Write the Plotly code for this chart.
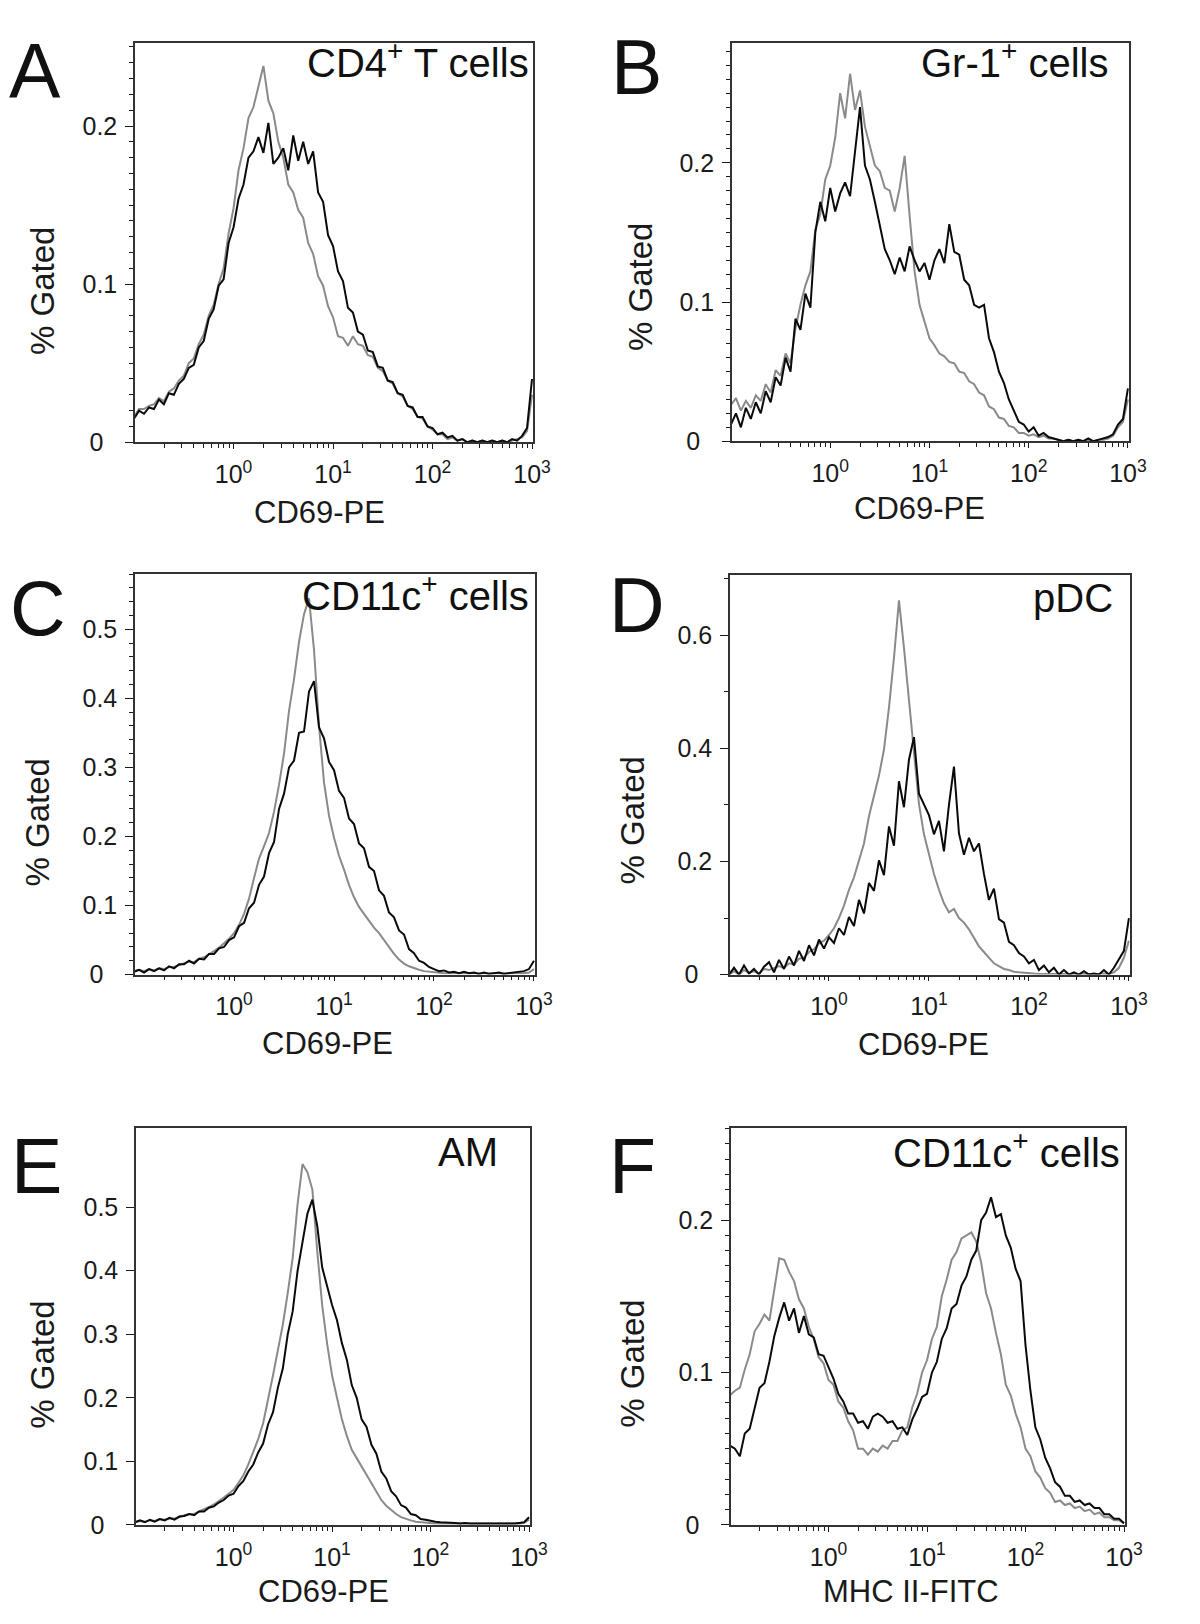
import plotly.graph_objects as go

# ---------------- data ----------------
# histogram channel grid (log10 of fluorescence), 0.05-decade bins
CHANNEL_LOG10 = [round(-1.0 + 0.05 * i, 2) for i in range(81)]
CHANNELS = [10 ** v for v in CHANNEL_LOG10]

X_TICK_VALUES = [1, 10, 100, 1000]
X_TICK_TEXT = ["10<sup>0</sup>", "10<sup>1</sup>", "10<sup>2</sup>", "10<sup>3</sup>"]

PANEL_LETTERS = ["A", "B", "C", "D", "E", "F"]
CELL_LABELS = ["CD4<sup>+</sup> T cells", "Gr-1<sup>+</sup> cells", "CD11c<sup>+</sup> cells",
               "pDC", "AM", "CD11c<sup>+</sup> cells"]
X_TITLES = ["CD69-PE", "CD69-PE", "CD69-PE", "CD69-PE", "CD69-PE", "MHC II-FITC"]
Y_TITLE = "% Gated"

# labelled y ticks per panel
A_YTICKS = [0, 0.1, 0.2]
A_YLABELS = ["0\u2007", "0.1", "0.2"]
B_YTICKS = [0, 0.1, 0.2]
B_YLABELS = ["0\u2007", "0.1", "0.2"]
C_YTICKS = [0, 0.1, 0.2, 0.3, 0.4, 0.5]
C_YLABELS = ["0\u2007", "0.1", "0.2", "0.3", "0.4", "0.5"]
D_YTICKS = [0, 0.2, 0.4, 0.6]
D_YLABELS = ["0\u2007", "0.2", "0.4", "0.6"]
E_YTICKS = [0, 0.1, 0.2, 0.3, 0.4, 0.5]
E_YLABELS = ["0\u2007", "0.1", "0.2", "0.3", "0.4", "0.5"]
F_YTICKS = [0, 0.1, 0.2]
F_YLABELS = ["0\u2007", "0.1", "0.2"]
# unlabelled half-step ticks
A_HALF_TICKS = [0.05, 0.15, 0.25]
B_HALF_TICKS = [0.05, 0.15, 0.25]
E_HALF_TICKS = [0.6]
F_HALF_TICKS = [0.05, 0.15, 0.25]

Y_MAX = [0.2527, 0.2863, 0.580, 0.7066, 0.6243, 0.2603]

# histogram values (% gated); gray = control, black = treated
A_GRAY = [
    0.016, 0.021, 0.021, 0.023, 0.024, 0.028, 0.026, 0.032, 0.034, 0.039,
    0.042, 0.050, 0.053, 0.062, 0.068, 0.080, 0.087, 0.100, 0.110, 0.132,
    0.148, 0.172, 0.186, 0.205, 0.212, 0.226, 0.238, 0.216, 0.208, 0.190,
    0.180, 0.163, 0.158, 0.147, 0.142, 0.126, 0.119, 0.105, 0.099, 0.086,
    0.079, 0.067, 0.066, 0.061, 0.067, 0.062, 0.061, 0.055, 0.054, 0.047,
    0.045, 0.039, 0.037, 0.031, 0.029, 0.023, 0.021, 0.016, 0.015, 0.010,
    0.008, 0.005, 0.005, 0.002, 0.003, 0.001, 0.002, 0.000, 0.001, 0.000,
    0.001, 0.000, 0.001, 0.000, 0.001, 0.000, 0.001, 0.002, 0.003, 0.007,
    0.030]
A_BLACK = [
    0.015, 0.020, 0.018, 0.022, 0.021, 0.027, 0.024, 0.031, 0.030, 0.037,
    0.040, 0.047, 0.049, 0.060, 0.064, 0.078, 0.084, 0.099, 0.103, 0.126,
    0.136, 0.154, 0.163, 0.180, 0.184, 0.193, 0.183, 0.202, 0.176, 0.180,
    0.186, 0.172, 0.194, 0.178, 0.190, 0.176, 0.184, 0.158, 0.152, 0.131,
    0.124, 0.108, 0.102, 0.085, 0.082, 0.070, 0.068, 0.058, 0.057, 0.048,
    0.047, 0.039, 0.038, 0.031, 0.030, 0.023, 0.022, 0.016, 0.016, 0.010,
    0.009, 0.005, 0.006, 0.003, 0.004, 0.001, 0.002, 0.000, 0.001, 0.000,
    0.001, 0.000, 0.001, 0.000, 0.001, 0.000, 0.002, 0.001, 0.004, 0.009,
    0.040]

B_GRAY = [
    0.026, 0.031, 0.022, 0.029, 0.024, 0.033, 0.029, 0.041, 0.035, 0.051,
    0.047, 0.063, 0.056, 0.081, 0.098, 0.112, 0.122, 0.152, 0.163, 0.188,
    0.198, 0.218, 0.250, 0.232, 0.264, 0.238, 0.252, 0.226, 0.212, 0.198,
    0.194, 0.182, 0.180, 0.165, 0.182, 0.205, 0.162, 0.122, 0.098, 0.086,
    0.074, 0.069, 0.063, 0.061, 0.057, 0.056, 0.050, 0.049, 0.043, 0.041,
    0.035, 0.033, 0.025, 0.023, 0.017, 0.016, 0.011, 0.010, 0.006, 0.006,
    0.004, 0.005, 0.003, 0.004, 0.002, 0.002, 0.001, 0.000, 0.001, 0.000,
    0.001, 0.000, 0.001, 0.000, 0.001, 0.001, 0.002, 0.004, 0.010, 0.014,
    0.030]
B_BLACK = [
    0.012, 0.020, 0.010, 0.024, 0.016, 0.028, 0.020, 0.036, 0.028, 0.046,
    0.040, 0.060, 0.050, 0.088, 0.080, 0.106, 0.096, 0.150, 0.172, 0.158,
    0.182, 0.165, 0.178, 0.186, 0.176, 0.208, 0.240, 0.198, 0.188, 0.172,
    0.156, 0.138, 0.130, 0.120, 0.132, 0.122, 0.140, 0.130, 0.122, 0.128,
    0.116, 0.130, 0.138, 0.128, 0.156, 0.136, 0.134, 0.116, 0.112, 0.098,
    0.096, 0.098, 0.074, 0.064, 0.050, 0.042, 0.030, 0.022, 0.014, 0.012,
    0.007, 0.010, 0.004, 0.006, 0.003, 0.002, 0.001, 0.000, 0.001, 0.000,
    0.001, 0.000, 0.002, 0.000, 0.001, 0.002, 0.003, 0.005, 0.012, 0.016,
    0.038]

C_GRAY = [
    0.005, 0.007, 0.005, 0.008, 0.006, 0.009, 0.008, 0.011, 0.011, 0.014,
    0.016, 0.019, 0.018, 0.023, 0.025, 0.029, 0.034, 0.039, 0.045, 0.052,
    0.060, 0.072, 0.088, 0.110, 0.140, 0.168, 0.186, 0.205, 0.236, 0.275,
    0.320, 0.382, 0.428, 0.482, 0.522, 0.545, 0.470, 0.360, 0.278, 0.230,
    0.198, 0.172, 0.152, 0.130, 0.112, 0.098, 0.088, 0.078, 0.068, 0.060,
    0.050, 0.040, 0.030, 0.022, 0.016, 0.012, 0.009, 0.007, 0.005, 0.004,
    0.003, 0.003, 0.002, 0.002, 0.002, 0.001, 0.002, 0.001, 0.001, 0.001,
    0.001, 0.001, 0.001, 0.001, 0.001, 0.001, 0.001, 0.002, 0.002, 0.003,
    0.008]
C_BLACK = [
    0.004, 0.007, 0.003, 0.008, 0.005, 0.009, 0.006, 0.012, 0.009, 0.015,
    0.015, 0.020, 0.016, 0.023, 0.022, 0.030, 0.030, 0.038, 0.040, 0.050,
    0.054, 0.070, 0.075, 0.096, 0.104, 0.130, 0.142, 0.176, 0.192, 0.240,
    0.262, 0.300, 0.310, 0.350, 0.352, 0.410, 0.425, 0.358, 0.342, 0.308,
    0.296, 0.266, 0.256, 0.226, 0.218, 0.190, 0.183, 0.156, 0.150, 0.122,
    0.114, 0.090, 0.083, 0.064, 0.058, 0.037, 0.031, 0.020, 0.017, 0.011,
    0.008, 0.005, 0.006, 0.003, 0.004, 0.002, 0.004, 0.002, 0.003, 0.001,
    0.003, 0.001, 0.002, 0.003, 0.001, 0.002, 0.003, 0.004, 0.005, 0.008,
    0.020]

D_GRAY = [
    0.000, 0.006, 0.000, 0.008, 0.003, 0.006, 0.002, 0.010, 0.008, 0.012,
    0.015, 0.012, 0.020, 0.018, 0.028, 0.030, 0.040, 0.045, 0.055, 0.060,
    0.070, 0.082, 0.100, 0.122, 0.150, 0.172, 0.200, 0.232, 0.280, 0.318,
    0.352, 0.398, 0.472, 0.560, 0.662, 0.578, 0.482, 0.398, 0.302, 0.248,
    0.212, 0.178, 0.150, 0.126, 0.110, 0.116, 0.100, 0.092, 0.080, 0.066,
    0.050, 0.040, 0.030, 0.020, 0.015, 0.010, 0.008, 0.005, 0.004, 0.003,
    0.002, 0.002, 0.001, 0.001, 0.001, 0.000, 0.001, 0.000, 0.000, 0.000,
    0.000, 0.001, 0.000, 0.000, 0.001, 0.002, 0.001, 0.004, 0.012, 0.030,
    0.060]
D_BLACK = [
    0.000, 0.012, 0.000, 0.016, 0.002, 0.010, 0.000, 0.014, 0.022, 0.004,
    0.026, 0.010, 0.032, 0.016, 0.042, 0.024, 0.052, 0.034, 0.062, 0.046,
    0.066, 0.056, 0.082, 0.070, 0.102, 0.086, 0.132, 0.108, 0.162, 0.148,
    0.202, 0.176, 0.262, 0.228, 0.342, 0.296, 0.380, 0.420, 0.320, 0.300,
    0.282, 0.248, 0.272, 0.218, 0.300, 0.368, 0.250, 0.212, 0.242, 0.218,
    0.232, 0.178, 0.132, 0.152, 0.098, 0.092, 0.058, 0.052, 0.038, 0.032,
    0.020, 0.026, 0.008, 0.016, 0.004, 0.012, 0.000, 0.008, 0.000, 0.004,
    0.000, 0.006, 0.000, 0.002, 0.000, 0.008, 0.000, 0.012, 0.026, 0.042,
    0.100]

E_GRAY = [
    0.004, 0.006, 0.005, 0.007, 0.006, 0.009, 0.008, 0.010, 0.010, 0.013,
    0.015, 0.017, 0.017, 0.021, 0.024, 0.028, 0.032, 0.037, 0.043, 0.049,
    0.055, 0.066, 0.078, 0.095, 0.115, 0.135, 0.160, 0.195, 0.235, 0.275,
    0.315, 0.365, 0.420, 0.505, 0.568, 0.555, 0.528, 0.430, 0.345, 0.285,
    0.235, 0.200, 0.166, 0.140, 0.118, 0.105, 0.092, 0.078, 0.065, 0.052,
    0.039, 0.030, 0.023, 0.017, 0.012, 0.009, 0.007, 0.005, 0.004, 0.003,
    0.003, 0.002, 0.002, 0.002, 0.001, 0.001, 0.001, 0.001, 0.001, 0.001,
    0.001, 0.001, 0.001, 0.001, 0.001, 0.001, 0.001, 0.001, 0.002, 0.003,
    0.008]
E_BLACK = [
    0.004, 0.007, 0.004, 0.008, 0.005, 0.009, 0.007, 0.011, 0.008, 0.013,
    0.014, 0.017, 0.015, 0.021, 0.021, 0.027, 0.029, 0.035, 0.039, 0.046,
    0.049, 0.061, 0.069, 0.084, 0.095, 0.114, 0.128, 0.158, 0.177, 0.216,
    0.246, 0.300, 0.336, 0.400, 0.445, 0.490, 0.512, 0.470, 0.405, 0.374,
    0.346, 0.322, 0.286, 0.260, 0.220, 0.200, 0.166, 0.154, 0.126, 0.112,
    0.084, 0.073, 0.053, 0.045, 0.031, 0.027, 0.017, 0.015, 0.009, 0.008,
    0.006, 0.005, 0.004, 0.004, 0.003, 0.003, 0.002, 0.003, 0.002, 0.002,
    0.002, 0.001, 0.002, 0.001, 0.002, 0.001, 0.002, 0.002, 0.003, 0.004,
    0.012]

F_GRAY = [
    0.085, 0.088, 0.090, 0.102, 0.112, 0.127, 0.132, 0.138, 0.134, 0.156,
    0.175, 0.174, 0.166, 0.160, 0.148, 0.142, 0.130, 0.122, 0.110, 0.106,
    0.095, 0.092, 0.081, 0.077, 0.068, 0.062, 0.050, 0.050, 0.046, 0.050,
    0.048, 0.052, 0.050, 0.055, 0.055, 0.062, 0.064, 0.077, 0.086, 0.100,
    0.108, 0.122, 0.130, 0.150, 0.161, 0.174, 0.179, 0.188, 0.190, 0.192,
    0.186, 0.172, 0.152, 0.142, 0.126, 0.112, 0.092, 0.085, 0.073, 0.064,
    0.050, 0.045, 0.035, 0.031, 0.024, 0.021, 0.015, 0.016, 0.013, 0.014,
    0.011, 0.012, 0.009, 0.010, 0.007, 0.008, 0.005, 0.005, 0.003, 0.003,
    0.001]
F_BLACK = [
    0.052, 0.050, 0.045, 0.060, 0.063, 0.076, 0.090, 0.093, 0.107, 0.124,
    0.136, 0.146, 0.134, 0.142, 0.126, 0.137, 0.125, 0.123, 0.112, 0.111,
    0.103, 0.096, 0.086, 0.081, 0.073, 0.073, 0.067, 0.068, 0.063, 0.071,
    0.073, 0.071, 0.067, 0.068, 0.063, 0.064, 0.059, 0.069, 0.076, 0.084,
    0.086, 0.100, 0.107, 0.122, 0.129, 0.142, 0.145, 0.157, 0.163, 0.174,
    0.180, 0.200, 0.205, 0.215, 0.202, 0.204, 0.190, 0.182, 0.168, 0.160,
    0.118, 0.088, 0.064, 0.056, 0.044, 0.037, 0.028, 0.025, 0.019, 0.019,
    0.015, 0.016, 0.013, 0.014, 0.011, 0.011, 0.007, 0.007, 0.004, 0.004,
    0.001]

GRAY_SERIES = [A_GRAY, B_GRAY, C_GRAY, D_GRAY, E_GRAY, F_GRAY]
BLACK_SERIES = [A_BLACK, B_BLACK, C_BLACK, D_BLACK, E_BLACK, F_BLACK]
Y_TICKS = [A_YTICKS, B_YTICKS, C_YTICKS, D_YTICKS, E_YTICKS, F_YTICKS]
Y_LABELS = [A_YLABELS, B_YLABELS, C_YLABELS, D_YLABELS, E_YLABELS, F_YLABELS]
HALF_TICKS = [A_HALF_TICKS, B_HALF_TICKS, None, None, E_HALF_TICKS, F_HALF_TICKS]

# ---------------- layout / style ----------------
W, H = 1200, 1624
FONT = "Liberation Sans, Arial, Helvetica, sans-serif"
INK = "#1a1a1a"
GRAY_LINE = "#8a8a8a"
BLACK_LINE = "#0a0a0a"

# plot boxes in pixels: left, right, top, bottom
BOXES = [(129, 533, 35, 438), (735, 1138, 35, 437),
         (129, 535, 571, 975), (733, 1139, 572, 975),
         (130, 530, 1130, 1530), (734, 1134, 1130, 1530)]
MINOR_DTICK = [0.01, 0.01, 0.02, 0.1, None, 0.01]

LETTER_SIZE = 77
CELL_SIZE = 40
LETTER_POS = [(0, 90), (611, 86), (1, 632), (609, 629), (2, 1195), (609, 1195)]  # left, baseline
CELL_POS = [(531, 66), (1120, 66), (531, 604), (1124, 609), (499, 1168), (1131, 1166)]  # right, baseline
XTITLE_POS = [(316, 509), (925, 505), (324, 1045), (929, 1046), (320, 1597), (917, 1597)]
YTITLE_POS = [(35, 285), (642, 281), (30, 822), (634, 819), (35, 1368), (634, 1367)]


def px(x):
    return x / W


def py(y):
    return 1 - y / H


fig = go.Figure()
layout = dict(
    width=W, height=H,
    margin=dict(l=0, r=0, t=0, b=0),
    paper_bgcolor="white", plot_bgcolor="white",
    showlegend=False,
    font=dict(family=FONT, color=INK),
)
annotations = []
extra_axis = 7

for k in range(6):
    n = "" if k == 0 else str(k + 1)
    xref, yref = "x" + n, "y" + n
    left, right, top, bottom = BOXES[k]

    fig.add_trace(go.Scatter(x=CHANNELS, y=GRAY_SERIES[k], xaxis=xref, yaxis=yref,
                             mode="lines", line=dict(color=GRAY_LINE, width=2.0),
                             hoverinfo="skip"))
    fig.add_trace(go.Scatter(x=CHANNELS, y=BLACK_SERIES[k], xaxis=xref, yaxis=yref,
                             mode="lines", line=dict(color=BLACK_LINE, width=2.0),
                             hoverinfo="skip"))

    layout["xaxis" + n] = dict(
        domain=[px(left), px(right)], anchor=yref, type="log",
        range=[-0.99, 3.01],
        tickmode="array", tickvals=X_TICK_VALUES, ticktext=X_TICK_TEXT,
        ticks="outside", ticklen=5, tickwidth=1.3, tickcolor=INK,
        ticklabelstandoff=4,
        minor=dict(dtick="D1", ticks="outside", ticklen=4, tickwidth=1.1,
                   tickcolor=INK, showgrid=False),
        showline=True, mirror=True, linecolor="#333333", linewidth=1.6,
        showgrid=False, zeroline=False,
        tickfont=dict(family=FONT, size=25, color=INK),
    )
    yax = dict(
        domain=[py(bottom), py(top)], anchor=xref,
        range=[0, Y_MAX[k]],
        tickmode="array", tickvals=Y_TICKS[k], ticktext=Y_LABELS[k],
        ticks="outside", ticklen=8, tickwidth=1.3, tickcolor=INK,
        ticklabelstandoff=3,
        showline=True, mirror=True, linecolor="#333333", linewidth=1.6,
        showgrid=False, zeroline=False,
        tickfont=dict(family=FONT, size=25, color=INK),
    )
    if MINOR_DTICK[k] is not None:
        yax["minor"] = dict(tick0=0, dtick=MINOR_DTICK[k], ticks="outside", ticklen=4,
                            tickwidth=1.1, tickcolor=INK, showgrid=False)
    layout["yaxis" + n] = yax

    # unlabelled intermediate ticks drawn by an overlaid tick-only axis
    if HALF_TICKS[k] is not None:
        layout["yaxis" + str(extra_axis)] = dict(
            overlaying=yref, anchor=xref, side="left", range=[0, Y_MAX[k]],
            tickmode="array", tickvals=HALF_TICKS[k], showticklabels=False,
            ticks="outside", ticklen=7, tickwidth=1.3, tickcolor=INK,
            showline=False, showgrid=False, zeroline=False,
        )
        extra_axis += 1

    # panel letter
    lx, lb = LETTER_POS[k]
    annotations.append(dict(text=PANEL_LETTERS[k], xref="paper", yref="paper",
                            x=px(lx), y=py(lb - 0.3465 * LETTER_SIZE), xanchor="left", yanchor="middle",
                            borderpad=0,
                            showarrow=False, font=dict(family=FONT, size=LETTER_SIZE, color="#111")))
    # cell population label
    cx, cb = CELL_POS[k]
    annotations.append(dict(text=CELL_LABELS[k], xref="paper", yref="paper",
                            x=px(cx), y=py(cb - 0.3465 * CELL_SIZE), xanchor="right", yanchor="middle",
                            showarrow=False, font=dict(family=FONT, size=CELL_SIZE, color="#111")))
    # axis titles
    tx, ty = XTITLE_POS[k]
    annotations.append(dict(text=X_TITLES[k], xref="paper", yref="paper",
                            x=px(tx), y=py(ty), xanchor="center", yanchor="middle",
                            showarrow=False, font=dict(family=FONT, size=31, color=INK)))
    vx, vy = YTITLE_POS[k]
    annotations.append(dict(text=Y_TITLE, xref="paper", yref="paper", textangle=-90,
                            x=px(vx), y=py(vy), xanchor="center", yanchor="middle",
                            showarrow=False, font=dict(family=FONT, size=33, color=INK)))

layout["annotations"] = annotations
fig.update_layout(**layout)
fig.write_html("out.html")
